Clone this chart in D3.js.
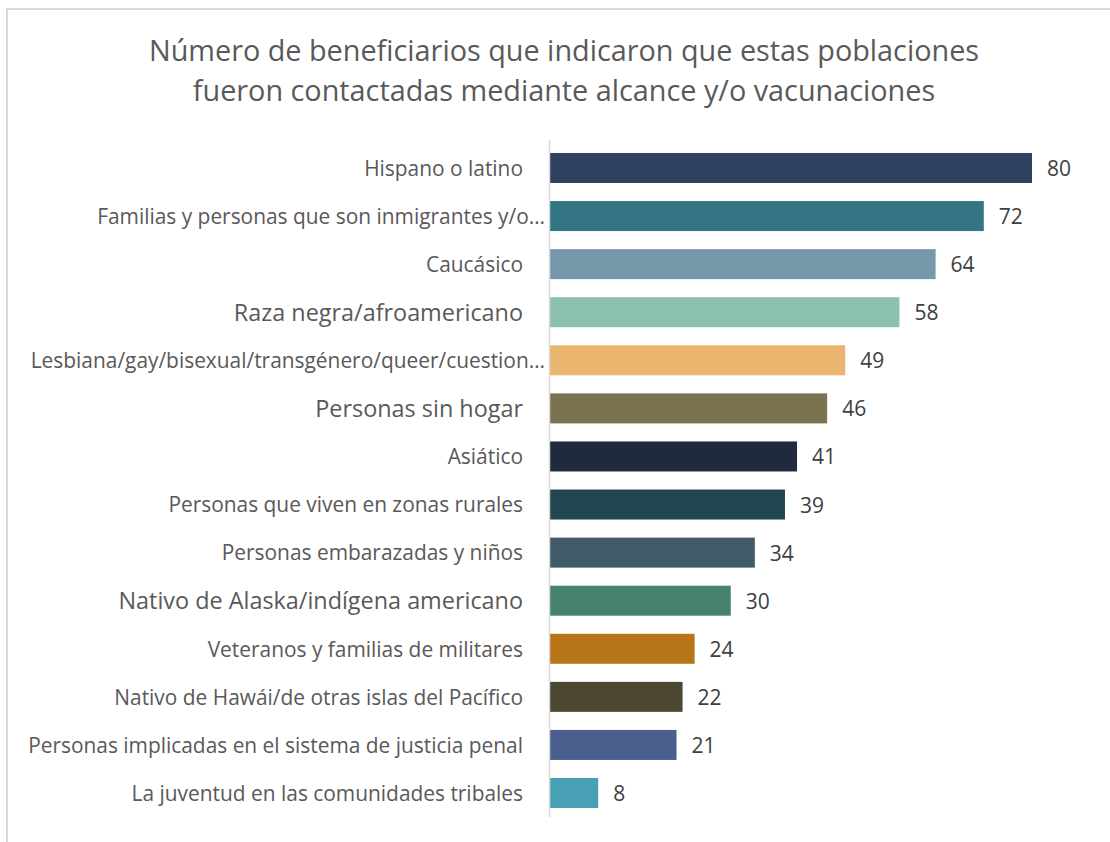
<!DOCTYPE html>
<html lang="es">
    <head>
        <meta charset="utf-8">
        <title>Poblaciones contactadas</title>
        <script src="https://d3js.org/d3.v7.min.js"></script>
        <style type="text/css">
            body { margin: 0; background: white; }
            svg { display: block; }
            text { font-family: "Open Sans", sans-serif; fill: #595959; }
        </style>
    </head>
    <body>
        <svg width="1110" height="842"></svg>
        <script type="text/javascript">

            // data
            const categories = [
                "Hispano o latino",
                "Familias y personas que son inmigrantes y/o…",
                "Caucásico",
                "Raza negra/afroamericano",
                "Lesbiana/gay/bisexual/transgénero/queer/cuestion…",
                "Personas sin hogar",
                "Asiático",
                "Personas que viven en zonas rurales",
                "Personas embarazadas y niños",
                "Nativo de Alaska/indígena americano",
                "Veteranos y familias de militares",
                "Nativo de Hawái/de otras islas del Pacífico",
                "Personas implicadas en el sistema de justicia penal",
                "La juventud en las comunidades tribales"
            ];
            const values = [80, 72, 64, 58, 49, 46, 41, 39, 34, 30, 24, 22, 21, 8];
            const barColors = ["#2f4160", "#337585", "#7599ab", "#8cc0b0", "#eab56f", "#7a7350", "#1f2a3d",
                               "#20474f", "#415b6a", "#46836f", "#b87418", "#4b4730", "#4a5f8e", "#47a0b4"];
            const bigLabels = ["Raza negra/afroamericano", "Personas sin hogar", "Nativo de Alaska/indígena americano"];
            const titleLines = ["Número de beneficiarios que indicaron que estas poblaciones",
                                "fueron contactadas mediante alcance y/o vacunaciones"];

            const svg = d3.select("svg");

            // frame
            svg.append("rect")
               .attr("x", 7).attr("y", 9)
               .attr("width", 1200).attr("height", 900)
               .style("fill", "none")
               .style("stroke", "#d9d9d9")
               .style("stroke-width", 2);

            svg.append("text")
               .attr("text-anchor", "middle")
               .style("font-size", "28.8px")
               .selectAll("tspan")
               .data(titleLines)
               .enter()
               .append("tspan")
               .attr("x", 564)
               .attr("y", (d, i) => 61 + i * 40)
               .text(d => d);

            const x = d3.scaleLinear().domain([0, 80]).range([550, 1032]);
            const y = d3.scaleBand().domain(categories).range([140, 821]).paddingInner(0.376).paddingOuter(0.27);

            const rows = categories.map((c, i) => ({name: c, value: values[i], color: barColors[i]}));

            svg.selectAll("rect.bar")
               .data(rows)
               .enter()
               .append("rect")
               .attr("class", "bar")
               .attr("x", x(0))
               .attr("y", d => y(d.name))
               .attr("width", d => x(d.value) - x(0))
               .attr("height", y.bandwidth())
               .style("fill", d => d.color);

            // axis line
            svg.append("line")
               .attr("x1", x(0) - 0.5).attr("x2", x(0) - 0.5)
               .attr("y1", 140).attr("y2", 817)
               .style("stroke", "#d9d9d9")
               .style("stroke-width", 1.5);

            svg.selectAll("text.val")
               .data(rows)
               .enter()
               .append("text")
               .attr("class", "val")
               .attr("x", d => x(d.value) + 15)
               .attr("y", d => y(d.name) + y.bandwidth() / 2)
               .attr("dy", "0.38em")
               .style("font-size", "21px")
               .style("fill", "#404040")
               .text(d => d.value);

            svg.selectAll("text.cat")
               .data(rows)
               .enter()
               .append("text")
               .attr("class", "cat")
               .attr("text-anchor", "end")
               .attr("x", d => d.name.endsWith("…") ? 545 : 523)
               .attr("y", d => y(d.name) + y.bandwidth() / 2)
               .attr("dy", "0.37em")
               .style("font-size", d => bigLabels.includes(d.name) ? "23.4px" : "20.9px")
               .text(d => d.name);

        </script>
    </body>
</html>
